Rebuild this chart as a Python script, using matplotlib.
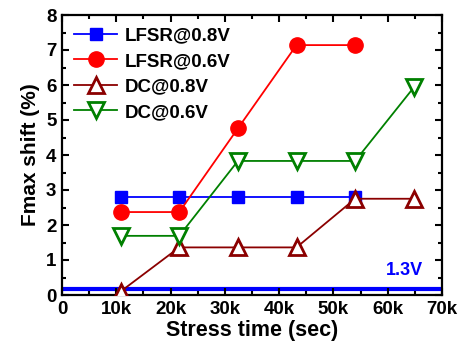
import matplotlib.pyplot as plt
from matplotlib.ticker import MultipleLocator, FuncFormatter

plt.rcParams['font.family'] = ['Liberation Sans', 'DejaVu Sans']
plt.rcParams['font.weight'] = 'bold'

# stress time (sec)
t_lfsr = [10800, 21600, 32400, 43200, 54000]
t_dc = [10800, 21600, 32400, 43200, 54000, 64800]

lfsr_08 = [2.8, 2.8, 2.8, 2.8, 2.8]
lfsr_06 = [2.37, 2.37, 4.76, 7.14, 7.14]
dc_08 = [0.1, 1.36, 1.36, 1.36, 2.75, 2.75]
dc_06 = [1.69, 1.69, 3.83, 3.83, 3.83, 5.93]
ref_13v = 0.16

fig = plt.figure(figsize=(4.59, 3.49), dpi=100)
ax = fig.add_axes([62 / 459, 1 - 295 / 349, 380 / 459, 280 / 349])

ax.axhline(ref_13v, color='blue', lw=3, zorder=1)
ax.plot(t_lfsr, lfsr_08, '-', color='blue', marker='s', ms=9, lw=1.3,
        label='LFSR@0.8V', zorder=3)
ax.plot(t_lfsr, lfsr_06, '-', color='red', marker='o', ms=11, lw=1.3,
        label='LFSR@0.6V', zorder=3)
ax.plot(t_dc, dc_08, '-', color='#8b0000', marker='^', ms=11, lw=1.3,
        mfc='white', mew=2, label='DC@0.8V', zorder=4)
ax.plot(t_dc, dc_06, '-', color='green', marker='v', ms=11, lw=1.3,
        mfc='white', mew=2, label='DC@0.6V', zorder=4)

ax.text(66500, 0.45, '1.3V', color='blue', fontsize=13, fontweight='bold',
        ha='right', va='bottom')

ax.set_xlim(0, 70000)
ax.set_ylim(0, 8)
ax.xaxis.set_major_locator(MultipleLocator(10000))
ax.xaxis.set_minor_locator(MultipleLocator(5000))
ax.yaxis.set_major_locator(MultipleLocator(1))
ax.yaxis.set_minor_locator(MultipleLocator(0.5))
ax.xaxis.set_major_formatter(FuncFormatter(lambda v, p: '0' if v == 0 else f'{int(v / 1000)}k'))

ax.tick_params(which='both', direction='in', top=True, right=True, width=1.5,
               labelsize=13.5)
ax.tick_params(which='major', length=5, pad=4)
ax.tick_params(which='minor', length=3)
for s in ax.spines.values():
    s.set_linewidth(1.6)

ax.set_xlabel('Stress time (sec)', fontsize=15.5, fontweight='bold', labelpad=2)
ax.set_ylabel('Fmax shift (%)', fontsize=15, fontweight='bold', labelpad=4)

ax.legend(loc='upper left', frameon=False, fontsize=13.5, handlelength=2.3,
          borderaxespad=0.25, labelspacing=0.45, handletextpad=0.4)

fig.savefig('out.png', dpi=100)
